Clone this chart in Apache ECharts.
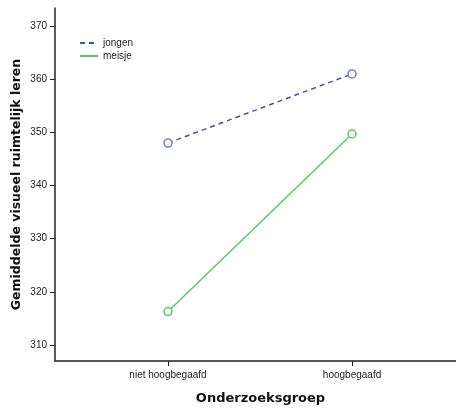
<!DOCTYPE html>
<html><head><meta charset="utf-8">
<script src="https://cdn.jsdelivr.net/npm/echarts@6/dist/echarts.min.js"></script>
<style>html,body{margin:0;padding:0;background:#fff}#c{width:456px;height:409px}</style>
</head><body><div id="c"></div>
<script>
const categories = ['niet hoogbegaafd', 'hoogbegaafd'];
const jongen = [348.0, 361.0];
const meisje = [316.3, 349.7];
const yTicks = [310, 320, 330, 340, 350, 360, 370];

const chart = echarts.init(document.getElementById('c'));
const font = 'Liberation Sans, Arial, sans-serif';
const bold = 'DejaVu Sans, Verdana, sans-serif';
function pts(arr){ return arr.map((v,i)=>[i,v]); }
chart.setOption({
  animation:false,
  backgroundColor:'#fff',
  grid:{left:55, right:0, top:8, bottom:48, outerBoundsMode:'none', containLabel:false},
  legend:{
    orient:'vertical', left:74, top:33, itemWidth:18, itemHeight:10, itemGap:3,
    textStyle:{fontFamily:font, fontSize:10, color:'#222'},
    itemStyle:{opacity:0},
    data:['jongen','meisje']
  },
  xAxis:{
    type:'value', min:-0.614, max:1.565,
    splitLine:{show:false},
    axisLine:{show:true, onZero:false, lineStyle:{color:'#222', width:1.5}},
    axisTick:{show:true, customValues:[0,1], length:5, lineStyle:{color:'#222'}},
    axisLabel:{customValues:[0,1], formatter:v=>categories[Math.round(v)], fontFamily:font, fontSize:10, color:'#222', margin:9},
    name:'Onderzoeksgroep', nameLocation:'middle', nameGap:31,
    nameTextStyle:{fontFamily:bold, fontSize:13, fontWeight:'bold', color:'#111', padding:[0,0,0,10]}
  },
  yAxis:{
    type:'value', min:307, max:373.4,
    splitLine:{show:false},
    axisLine:{show:true, onZero:false, lineStyle:{color:'#222', width:1.5}},
    axisTick:{show:true, customValues:yTicks, length:5, lineStyle:{color:'#222'}},
    axisLabel:{customValues:yTicks, fontFamily:font, fontSize:10, color:'#222', margin:8},
    name:'Gemiddelde visueel ruimtelijk leren', nameLocation:'middle', nameGap:32, nameMoveOverlap:false,
    nameTextStyle:{fontFamily:bold, fontSize:12.5, fontWeight:'bold', color:'#111'}
  },
  series:[
    {name:'jongen', type:'line', data:pts(jongen), symbol:'circle', symbolSize:8,
     lineStyle:{color:'#3f54b8', width:1.5, type:[5,4]},
     itemStyle:{color:'#fff', borderColor:'#6f7fce', borderWidth:1.5}, color:'#3f54b8'},
    {name:'meisje', type:'line', data:pts(meisje), symbol:'circle', symbolSize:8,
     lineStyle:{color:'#5cc864', width:1.5},
     itemStyle:{color:'#fff', borderColor:'#5cc864', borderWidth:1.5}, color:'#5cc864'}
  ]
});
</script></body></html>
